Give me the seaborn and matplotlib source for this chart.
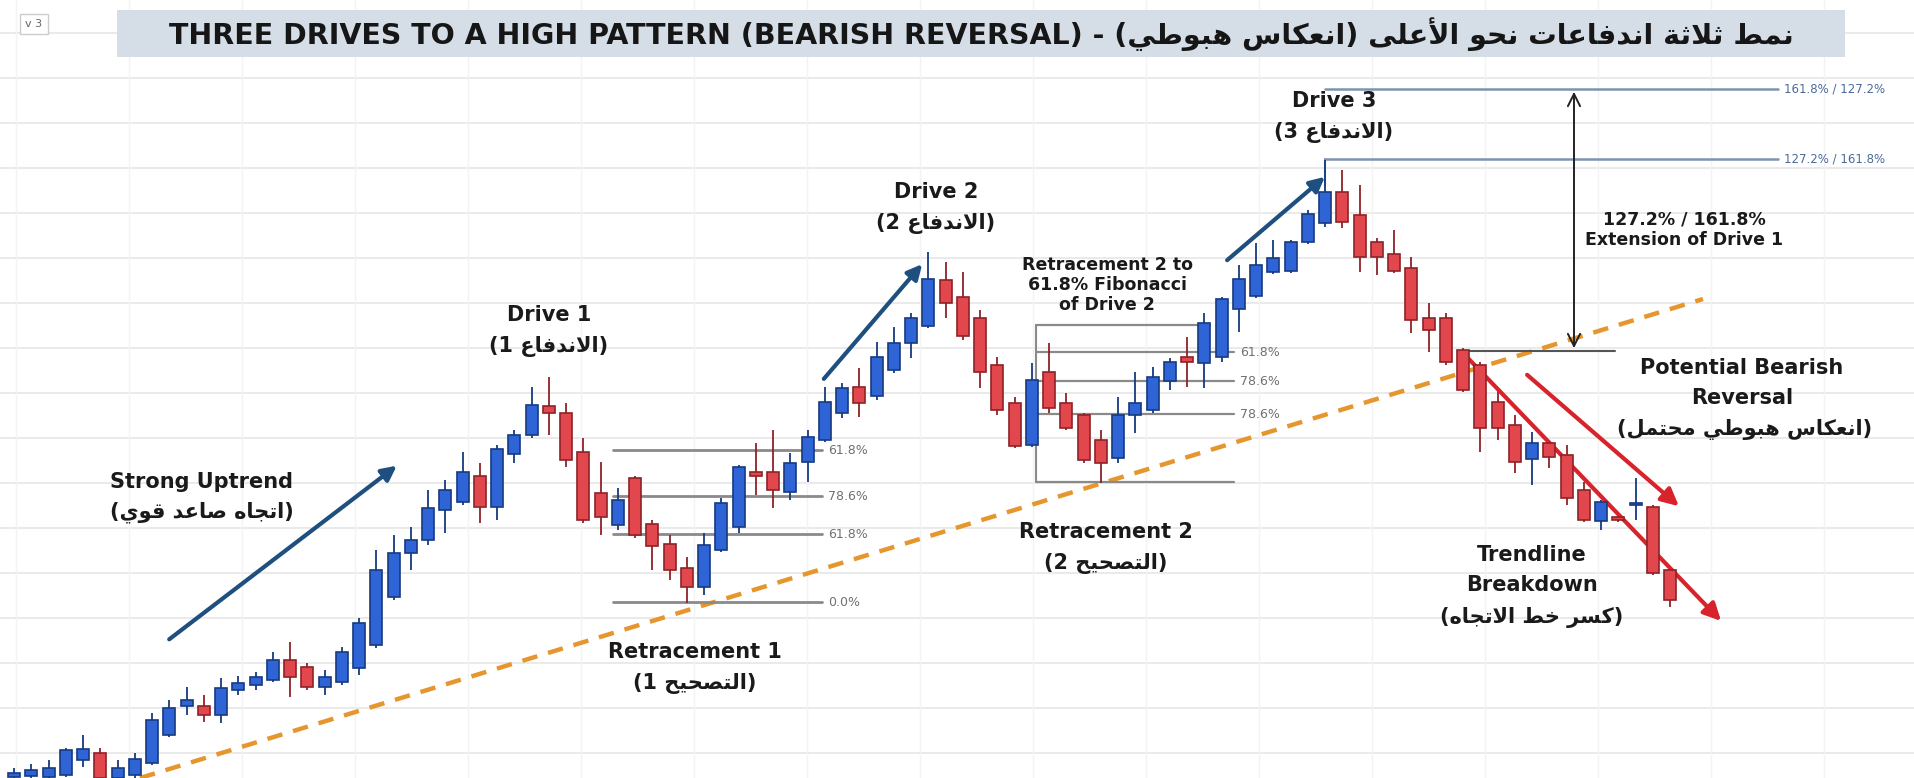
import matplotlib
matplotlib.use("Agg")
import matplotlib.pyplot as plt
from matplotlib.patches import Rectangle
import seaborn as sns
import pandas as pd
import numpy as np

opens = [777,776,777,775,760,753,778,775,763,735,706,706,715,690,685,680,660,667,687,682,
         668,645,597,553,540,510,502,476,507,454,435,406,413,452,493,525,478,524,544,568,
         587,550,527,472,472,492,462,440,413,387,396,370,343,326,280,297,318,365,403,445,
         372,403,415,440,458,415,410,381,357,363,357,309,296,272,271,242,223,192,215,242,
         254,268,318,318,350,365,402,425,459,443,455,490,521,517,505,507,570]
highs = [768,764,760,748,735,748,760,753,713,700,687,695,678,676,672,652,642,663,670,647,
         618,550,535,527,490,480,452,463,445,430,387,377,403,438,462,488,476,520,535,557,
         533,498,465,443,430,453,430,387,383,368,342,327,313,252,262,272,310,357,397,363,
         343,393,413,430,397,372,367,358,337,313,297,265,243,240,240,210,160,170,185,238,
         230,257,303,313,348,362,390,415,432,440,445,482,500,515,478,505,568]
lows = [778,778,778,777,767,778,778,778,765,737,715,722,723,695,690,682,697,690,695,685,
        675,648,600,570,545,533,505,523,520,463,438,435,467,523,535,530,538,570,580,603,
        595,552,533,495,508,500,482,442,418,417,400,373,358,328,318,340,388,415,448,447,
        413,430,463,483,463,433,413,390,387,388,362,332,298,274,273,244,227,228,272,275,
        273,333,352,365,392,452,440,473,485,468,505,522,530,522,520,575,607]
closes = [773,770,768,750,749,778,768,759,720,708,700,715,688,683,677,660,677,687,677,652,
          623,570,553,540,508,490,472,507,449,435,405,413,460,520,517,500,535,546,570,587,
          545,503,467,476,490,463,437,402,388,403,357,343,318,279,303,336,372,410,446,380,
          408,428,460,463,415,403,377,362,362,323,299,279,265,258,242,214,192,222,257,257,
          271,320,330,362,390,428,428,462,443,457,498,520,502,520,503,573,600]

fib1_levels = [450, 496, 534, 602]
fib1_labels = ["61.8%", "78.6%", "61.8%", "0.0%"]
fib2_levels = [325, 352, 381, 414, 482]
fib2_labels = ["", "61.8%", "78.6%", "78.6%", ""]
ext_levels = [89, 159]
ext_labels = ["161.8% / 127.2%", "127.2% / 161.8%"]

# ---------------- minimal Arabic shaping (presentation forms) ----------------
F = {
 '\u0627': (0xFE8D, 0xFE8E, None, None), '\u0623': (0xFE83, 0xFE84, None, None),
 '\u0625': (0xFE87, 0xFE88, None, None), '\u0622': (0xFE81, 0xFE82, None, None),
 '\u0628': (0xFE8F, 0xFE90, 0xFE91, 0xFE92), '\u0629': (0xFE93, 0xFE94, None, None),
 '\u062A': (0xFE95, 0xFE96, 0xFE97, 0xFE98), '\u062B': (0xFE99, 0xFE9A, 0xFE9B, 0xFE9C),
 '\u062C': (0xFE9D, 0xFE9E, 0xFE9F, 0xFEA0), '\u062D': (0xFEA1, 0xFEA2, 0xFEA3, 0xFEA4),
 '\u062E': (0xFEA5, 0xFEA6, 0xFEA7, 0xFEA8), '\u062F': (0xFEA9, 0xFEAA, None, None),
 '\u0630': (0xFEAB, 0xFEAC, None, None), '\u0631': (0xFEAD, 0xFEAE, None, None),
 '\u0632': (0xFEAF, 0xFEB0, None, None), '\u0633': (0xFEB1, 0xFEB2, 0xFEB3, 0xFEB4),
 '\u0634': (0xFEB5, 0xFEB6, 0xFEB7, 0xFEB8), '\u0635': (0xFEB9, 0xFEBA, 0xFEBB, 0xFEBC),
 '\u0636': (0xFEBD, 0xFEBE, 0xFEBF, 0xFEC0), '\u0637': (0xFEC1, 0xFEC2, 0xFEC3, 0xFEC4),
 '\u0638': (0xFEC5, 0xFEC6, 0xFEC7, 0xFEC8), '\u0639': (0xFEC9, 0xFECA, 0xFECB, 0xFECC),
 '\u063A': (0xFECD, 0xFECE, 0xFECF, 0xFED0), '\u0641': (0xFED1, 0xFED2, 0xFED3, 0xFED4),
 '\u0642': (0xFED5, 0xFED6, 0xFED7, 0xFED8), '\u0643': (0xFED9, 0xFEDA, 0xFEDB, 0xFEDC),
 '\u0644': (0xFEDD, 0xFEDE, 0xFEDF, 0xFEE0), '\u0645': (0xFEE1, 0xFEE2, 0xFEE3, 0xFEE4),
 '\u0646': (0xFEE5, 0xFEE6, 0xFEE7, 0xFEE8), '\u0647': (0xFEE9, 0xFEEA, 0xFEEB, 0xFEEC),
 '\u0648': (0xFEED, 0xFEEE, None, None), '\u0649': (0xFEEF, 0xFEF0, None, None),
 '\u064A': (0xFEF1, 0xFEF2, 0xFEF3, 0xFEF4),
}
LAMALEF = {'\u0627': (0xFEFB, 0xFEFC), '\u0623': (0xFEF7, 0xFEF8),
           '\u0625': (0xFEF9, 0xFEFA), '\u0622': (0xFEF5, 0xFEF6)}

def dual(c):
    return c in F and F[c][2] is not None

def ar(s):
    out = []
    i = 0
    n = len(s)
    while i < n:
        c = s[i]
        if c not in F:
            out.append(c); i += 1; continue
        prev = i > 0 and dual(s[i - 1])
        if c == '\u0644' and i + 1 < n and s[i + 1] in LAMALEF:
            iso, fin = LAMALEF[s[i + 1]]
            out.append(chr(fin if prev else iso)); i += 2; continue
        nxt = dual(c) and i + 1 < n and s[i + 1] in F
        iso, fin, ini, med = F[c]
        if prev and nxt: g = med
        elif prev: g = fin
        elif nxt: g = ini
        else: g = iso
        out.append(chr(g)); i += 1
    return ''.join(reversed(out))

# ---------------- figure ----------------
sns.set_theme(style="white")
plt.rcParams['font.family'] = ['DejaVu Sans']
fig = plt.figure(figsize=(19.14, 7.78), dpi=100)
ax = fig.add_axes([0, 0, 1, 1])
ax.set_xlim(0, 1914)
ax.set_ylim(778, 0)
ax.axis('off')
fig.patch.set_facecolor('white')

for gy in np.arange(33, 778, 45):
    ax.axhline(gy, color='#e8e8e8', lw=1.3, zorder=0)
for gx in np.arange(16, 1914, 113):
    ax.axvline(gx, color='#f3f3f3', lw=1.0, zorder=0)

# candles
df = pd.DataFrame({'open': opens, 'high': highs, 'low': lows, 'close': closes})
df['x'] = 14 + 17.25 * np.arange(len(df))
df['bull'] = df['close'] <= df['open']
up_c, up_e, dn_c, dn_e = '#2f64d6', '#163a80', '#e2474d', '#8e2227'
ax.vlines(df['x'], df['high'], df['low'],
          colors=np.where(df['bull'], up_e, dn_e), lw=1.3, zorder=3)
top = np.minimum(df['open'], df['close'])
h = np.maximum(np.abs(df['open'] - df['close']), 2)
ax.bar(df['x'], h, bottom=top, width=12,
       color=np.where(df['bull'], up_c, dn_c),
       edgecolor=np.where(df['bull'], up_e, dn_e), lw=1.2, zorder=4)

# trendline (orange dashed)
tl = pd.DataFrame({'x': [140, 1703], 'y': [778, 299]})
sns.lineplot(data=tl, x='x', y='y', ax=ax, color='#e6962e', lw=3.2,
             linestyle=(0, (3.5, 2.5)), zorder=2)
ax.set_xlim(0, 1914); ax.set_ylim(778, 0); ax.axis('off')

# fib retracement 1
fibc = '#8a8a8a'
for lv, lb in zip(fib1_levels, fib1_labels):
    ax.plot([613, 822], [lv, lv], color=fibc, lw=2, zorder=2)
    ax.text(828, lv, lb, fontsize=9, color='#707070', va='center')
# fib retracement 2
ax.plot([1036, 1036], [325, 482], color=fibc, lw=1.5, zorder=2)
for lv, lb in zip(fib2_levels, fib2_labels):
    x1 = 1210 if lb == "" and lv == 325 else 1234
    ax.plot([1036, x1], [lv, lv], color=fibc, lw=1.6, zorder=2)
    if lb:
        ax.text(1240, lv, lb, fontsize=9, color='#707070', va='center')

# extension lines
for lv, lb in zip(ext_levels, ext_labels):
    ax.plot([1325, 1778], [lv, lv], color='#7d93b0', lw=1.8, zorder=2)
    ax.text(1784, lv, lb, fontsize=8.5, color='#4c6a99', va='center')
ax.plot([1325, 1325], [159, 186], color='#7d93b0', lw=1.5)
ax.plot([1463, 1615], [351, 351], color='#555555', lw=1.5, zorder=2)
ax.annotate('', xy=(1574, 89), xytext=(1574, 351),
            arrowprops=dict(arrowstyle='<->', color='#222222', lw=1.4, mutation_scale=22))

# arrows
blue = '#1f4f7e'
for (x0, y0, x1, y1) in [(167, 641, 399, 464), (822, 381, 924, 262), (1225, 262, 1327, 175)]:
    ax.annotate('', xy=(x1, y1), xytext=(x0, y0),
                arrowprops=dict(arrowstyle='-|>', color=blue, lw=3, mutation_scale=22))
red = '#d8232c'
for (x0, y0, x1, y1) in [(1463, 353, 1723, 623), (1525, 373, 1681, 508)]:
    ax.annotate('', xy=(x1, y1), xytext=(x0, y0),
                arrowprops=dict(arrowstyle='-|>', color=red, lw=3, mutation_scale=26))

# title
ax.add_patch(Rectangle((117, 10), 1728, 47, facecolor='#d5dde7', edgecolor='none', zorder=5))
title = ("THREE DRIVES TO A HIGH PATTERN (BEARISH REVERSAL) - (" + ar("انعكاس هبوطي") + ") "
         + ar("نمط ثلاثة اندفاعات نحو الأعلى"))
ax.text(981, 34, title, fontsize=20.5, fontweight='bold', ha='center', va='center',
        color='#161616', zorder=6)
ax.add_patch(Rectangle((20, 14), 28, 20, facecolor='white', edgecolor='#cccccc', lw=1, zorder=5))
ax.text(34, 24, "v 3", fontsize=8, ha='center', va='center', color='#666666', zorder=6)

# labels
lab = dict(fontsize=15, fontweight='semibold', ha='center', va='center', color='#1a1a1a', zorder=7)
def two(x, y1, y2, t1, t2, **kw):
    d = dict(lab); d.update(kw)
    ax.text(x, y1, t1, **d)
    ax.text(x, y2, t2, **d)

two(202, 482, 512, "Strong Uptrend", "(" + ar("اتجاه صاعد قوي") + ")")
two(549, 315, 346, "Drive 1", "(1 " + ar("الاندفاع") + ")")
two(936, 192, 223, "Drive 2", "(2 " + ar("الاندفاع") + ")")
two(1334, 101, 132, "Drive 3", "(3 " + ar("الاندفاع") + ")")
two(695, 652, 683, "Retracement 1", "(1 " + ar("التصحيح") + ")")
two(1106, 532, 563, "Retracement 2", "(2 " + ar("التصحيح") + ")")
ax.text(1107, 285, "Retracement 2 to\n61.8% Fibonacci\nof Drive 2", fontsize=12.5, fontweight='semibold',
        ha='center', va='center', color='#1a1a1a', linespacing=1.15, zorder=7)
ax.text(1684, 230, "127.2% / 161.8%\nExtension of Drive 1", fontsize=12.5, fontweight='semibold',
        ha='center', va='center', color='#1a1a1a', linespacing=1.2, zorder=7)
ax.text(1742, 368, "Potential Bearish", **lab)
ax.text(1742, 398, "Reversal", **lab)
ax.text(1745, 429, "(" + ar("انعكاس هبوطي محتمل") + ")", **lab)
ax.text(1532, 555, "Trendline", **lab)
ax.text(1532, 585, "Breakdown", **lab)
ax.text(1532, 617, "(" + ar("كسر خط الاتجاه") + ")", **lab)

fig.savefig("out.png", dpi=100, facecolor='white')
